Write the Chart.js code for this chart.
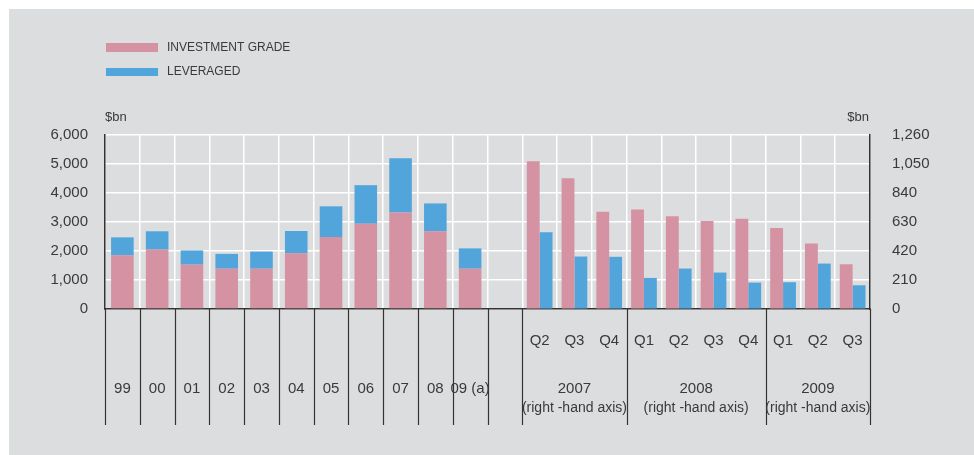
<!DOCTYPE html>
<html lang="en">
<head>
    <meta charset="UTF-8">
    <title>Investment grade and leveraged issuance</title>
    <script src="https://cdn.jsdelivr.net/npm/chart.js"></script>
    <style>
        * {
            margin: 0;
            padding: 0;
            box-sizing: border-box;
        }

        body {
            background: #ffffff;
            width: 974px;
            height: 455px;
            overflow: hidden;
        }

        .chart-box {
            position: relative;
            width: 974px;
            height: 455px;
        }
    </style>
</head>
<body>
    <div class="chart-box">
        <canvas id="issuanceChart" width="974" height="455"></canvas>
    </div>

    <script>
        // categories: 11 years, one empty slot, then 10 quarters
        const years = ['99', '00', '01', '02', '03', '04', '05', '06', '07', '08', '09 (a)'];
        const quarters = ['Q2', 'Q3', 'Q4', 'Q1', 'Q2', 'Q3', 'Q4', 'Q1', 'Q2', 'Q3'];
        const quarterYears = ['2007', '2008', '2009'];
        const quartersPerYear = [3, 4, 3];
        const yearNote = '(right -hand axis)';

        // annual values, left-hand axis ($bn)
        const annualInvestment = [1850, 2050, 1530, 1390, 1390, 1920, 2480, 2940, 3330, 2680, 1390];
        const annualLeveraged = [620, 630, 490, 510, 590, 770, 1060, 1330, 1870, 960, 700];

        // quarterly values, right-hand axis ($bn)
        const quarterInvestment = [1070, 947, 705, 720, 671, 637, 654, 586, 475, 324];
        const quarterLeveraged = [555, 380, 378, 225, 293, 264, 191, 194, 329, 172];

        const leftTicks = [0, 1000, 2000, 3000, 4000, 5000, 6000];
        const rightTicks = [0, 210, 420, 630, 840, 1050, 1260];

        const pink = '#d592a2';
        const blue = '#52a5db';
        const ink = '#3a3a3a';
        const font = '"Liberation Sans", Arial, sans-serif';

        const labels = [...years, '', ...quarters];
        const gap = [null];
        const noQuarters = quarters.map(() => null);
        const noYears = years.map(() => null);

        // gray panel, legend, unit labels and the boxed category axis
        const decorations = {
            id: 'decorations',
            beforeDraw(chart) {
                const c = chart.ctx;
                c.save();
                c.fillStyle = '#dcdddf';
                c.fillRect(9, 9, chart.width - 9, chart.height - 9);
                c.restore();
            },
            afterDraw(chart) {
                const c = chart.ctx;
                const x = chart.scales.x;
                const area = chart.chartArea;
                const half = (x.getPixelForValue(1) - x.getPixelForValue(0)) / 2;
                const edge = (i) => x.getPixelForValue(i) - half;

                c.save();
                // legend
                c.fillStyle = pink;
                c.fillRect(106, 43, 52, 9);
                c.fillStyle = blue;
                c.fillRect(106, 68, 52, 8);
                c.fillStyle = ink;
                c.font = '12px ' + font;
                c.textBaseline = 'middle';
                c.textAlign = 'left';
                c.fillText('INVESTMENT GRADE', 167, 48);
                c.fillText('LEVERAGED', 167, 72);

                // units
                c.font = '13px ' + font;
                c.fillText('$bn', 105, 117);
                c.textAlign = 'right';
                c.fillText('$bn', 869, 117);

                // vertical separators under the axis
                c.strokeStyle = '#333';
                c.lineWidth = 1.2;
                const cuts = [];
                for (let i = 0; i <= years.length + 1; i++) cuts.push(i);
                let pos = years.length + 1;
                quartersPerYear.forEach((n) => {
                    pos += n;
                    cuts.push(pos);
                });
                cuts.forEach((i) => {
                    const px = Math.round(edge(i)) + 0.5;
                    c.beginPath();
                    c.moveTo(px, area.bottom);
                    c.lineTo(px, 425);
                    c.stroke();
                });

                // year labels
                c.textAlign = 'center';
                c.font = '15px ' + font;
                years.forEach((y, i) => {
                    c.fillText(y, x.getPixelForValue(i), 389);
                });

                // quarter labels
                quarters.forEach((q, i) => {
                    c.fillText(q, x.getPixelForValue(years.length + 1 + i), 341);
                });

                // quarter group labels
                let start = years.length + 1;
                quarterYears.forEach((y, k) => {
                    const end = start + quartersPerYear[k];
                    const mid = (edge(start) + edge(end)) / 2;
                    c.font = '15px ' + font;
                    c.fillText(y, mid, 389);
                    c.font = '14px ' + font;
                    c.fillText(yearNote, mid, 408);
                    start = end;
                });
                c.restore();
            }
        };

        const ctx = document.getElementById('issuanceChart').getContext('2d');
        new Chart(ctx, {
            type: 'bar',
            data: {
                labels: labels,
                datasets: [{
                    label: 'INVESTMENT GRADE',
                    data: [...annualInvestment, ...gap, ...noQuarters],
                    backgroundColor: pink,
                    stack: 'annual',
                    yAxisID: 'y',
                    categoryPercentage: 0.65,
                    barPercentage: 1,
                    skipNull: true
                }, {
                    label: 'LEVERAGED',
                    data: [...annualLeveraged, ...gap, ...noQuarters],
                    backgroundColor: blue,
                    stack: 'annual',
                    yAxisID: 'y',
                    categoryPercentage: 0.65,
                    barPercentage: 1,
                    skipNull: true
                }, {
                    label: 'INVESTMENT GRADE (quarterly)',
                    data: [...noYears, ...gap, ...quarterInvestment],
                    backgroundColor: pink,
                    stack: 'qInvestment',
                    yAxisID: 'y2',
                    categoryPercentage: 0.74,
                    barPercentage: 1,
                    skipNull: true
                }, {
                    label: 'LEVERAGED (quarterly)',
                    data: [...noYears, ...gap, ...quarterLeveraged],
                    backgroundColor: blue,
                    stack: 'qLeveraged',
                    yAxisID: 'y2',
                    categoryPercentage: 0.74,
                    barPercentage: 1,
                    skipNull: true
                }]
            },
            options: {
                responsive: false,
                animation: false,
                layout: {
                    padding: { top: 135, left: 0, right: 0, bottom: 0 }
                },
                plugins: {
                    legend: { display: false },
                    tooltip: { enabled: false }
                },
                scales: {
                    x: {
                        ticks: { display: false },
                        grid: { color: '#ffffff', lineWidth: 1.5, drawTicks: false },
                        border: { color: '#333', width: 1.5 },
                        afterFit(scale) { scale.height = 146; }
                    },
                    y: {
                        position: 'left',
                        min: leftTicks[0],
                        max: leftTicks[leftTicks.length - 1],
                        afterBuildTicks(scale) { scale.ticks = leftTicks.map((v) => ({ value: v })); },
                        ticks: {
                            padding: 17,
                            color: ink,
                            font: { family: font, size: 15 },
                            callback: (v) => v.toLocaleString('en-US')
                        },
                        grid: { color: '#ffffff', lineWidth: 1.5, drawTicks: false },
                        border: { color: '#333', width: 1.5 },
                        afterFit(scale) { scale.width = 105; }
                    },
                    y2: {
                        position: 'right',
                        min: rightTicks[0],
                        max: rightTicks[rightTicks.length - 1],
                        afterBuildTicks(scale) { scale.ticks = rightTicks.map((v) => ({ value: v })); },
                        ticks: {
                            padding: 22,
                            color: ink,
                            font: { family: font, size: 15 },
                            callback: (v) => v.toLocaleString('en-US')
                        },
                        grid: { drawOnChartArea: false, drawTicks: false },
                        border: { color: '#333', width: 1.5 },
                        afterFit(scale) { scale.width = 104; }
                    }
                }
            },
            plugins: [decorations]
        });
    </script>
</body>
</html>
